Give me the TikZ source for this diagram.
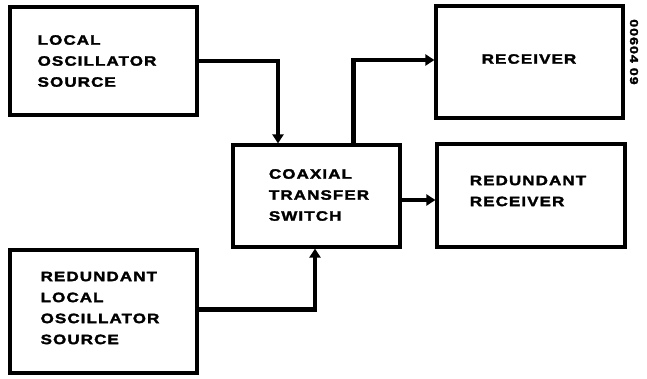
\documentclass[tikz,border=0pt]{standalone}
\usepackage{fontspec}
\setmainfont{Liberation Sans}[BoldFeatures={FakeStretch=1.25,LetterSpace=8,FakeBold=2.2}]
\usetikzlibrary{arrows.meta}
\begin{document}
\begin{tikzpicture}[x=1pt,y=-1pt,
  blk/.style={draw,line width=3.2pt,inner sep=0pt},
  txt/.style={align=left,inner sep=0pt,font=\fontsize{13.6}{21}\selectfont\bfseries},
  conn/.style={line width=4.8pt,-{Triangle[length=9pt,width=11pt]}}]
\useasboundingbox (0,0) rectangle (647,378);
\node[blk,minimum width=187pt,minimum height=108pt] (lo) at (103.5,61) {};
\node[txt] (lot) at (97,61) {LOCAL\\OSCILLATOR\\SOURCE};
\node[blk,minimum width=187pt,minimum height=112pt] (rec) at (529.5,62) {};
\node[txt] (rect) at (529,59) {RECEIVER};
\node[blk,minimum width=167pt,minimum height=102pt] (cts) at (316.5,196) {};
\node[txt] (ctst) at (319,195) {COAXIAL\\TRANSFER\\SWITCH};
\node[blk,minimum width=188pt,minimum height=103pt] (rr) at (531,195.5) {};
\node[txt] (rrt) at (528,191) {REDUNDANT\\RECEIVER};
\node[blk,minimum width=187pt,minimum height=123pt] (rlo) at (103.5,311.5) {};
\node[txt] (rlot) at (100,308) {REDUNDANT\\LOCAL\\OSCILLATOR\\SOURCE};
\node[font=\fontsize{11.5}{12}\selectfont\bfseries,rotate=-90] (id) at (634,52) {00604 09};
\draw[conn] (lo.east) -| ([xshift=-38.5pt]cts.north);
\draw[conn] ([xshift=37pt]cts.north) |- ([yshift=2pt]rec.west);
\draw[conn] ([yshift=-4pt]cts.east) -- ([yshift=-4pt]cts.east -| rr.west);
\draw[conn] ([yshift=2pt]rlo.east) -| ([xshift=-1.5pt]cts.south);
\end{tikzpicture}
\end{document}
